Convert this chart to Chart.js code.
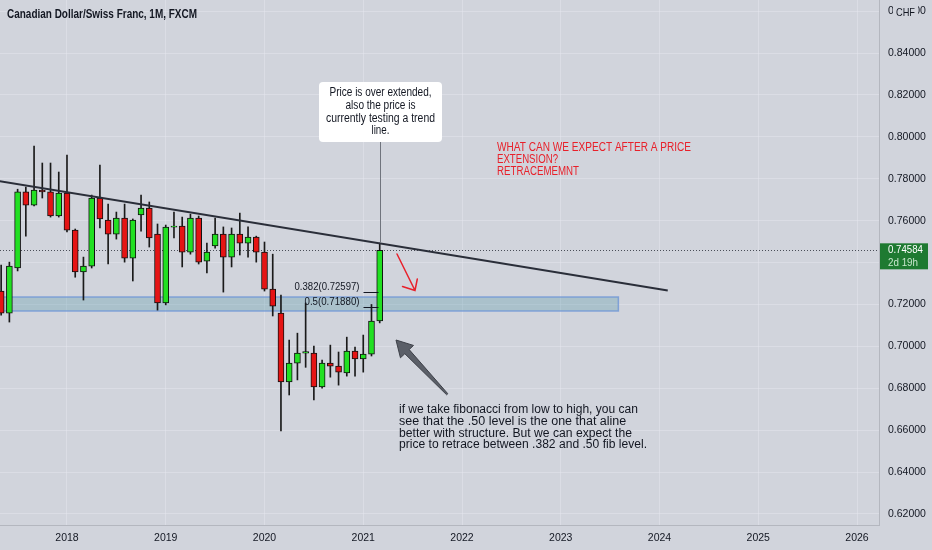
<!DOCTYPE html>
<html lang="en">
<head>
  <meta charset="UTF-8">
  <title>Canadian Dollar/Swiss Franc, 1M, FXCM</title>
  <script src="https://cdn.jsdelivr.net/npm/chart.js"></script>
  <style>
    html, body { margin: 0; padding: 0; background: #d1d4dc; overflow: hidden; }
    canvas { display: block; }
  </style>
</head>
<body>
  <canvas id="chart" width="932" height="550"></canvas>
  <script>
    // monthly candles, CADCHF
    const months = [
      "2017-05", "2017-06", "2017-07", "2017-08", "2017-09", "2017-10", "2017-11", "2017-12",
      "2018-01", "2018-02", "2018-03", "2018-04", "2018-05", "2018-06", "2018-07", "2018-08", "2018-09", "2018-10", "2018-11", "2018-12",
      "2019-01", "2019-02", "2019-03", "2019-04", "2019-05", "2019-06", "2019-07", "2019-08", "2019-09", "2019-10", "2019-11", "2019-12",
      "2020-01", "2020-02", "2020-03", "2020-04", "2020-05", "2020-06", "2020-07", "2020-08", "2020-09", "2020-10", "2020-11", "2020-12",
      "2021-01", "2021-02", "2021-03"
    ];
    const opens = [
      0.7264, 0.7159, 0.7374, 0.7737, 0.7674, 0.7746, 0.7737, 0.7622,
      0.7732, 0.7555, 0.7355, 0.7383, 0.7708, 0.7603, 0.7536, 0.7612, 0.7421, 0.7627, 0.7660, 0.7536,
      0.7207, 0.7569, 0.7574, 0.7450, 0.7612, 0.7407, 0.7479, 0.7536, 0.7426, 0.7536, 0.7493, 0.7522,
      0.7450, 0.7273, 0.7159, 0.6830, 0.6920, 0.6968, 0.6968, 0.6806, 0.6920, 0.6906, 0.6873, 0.6978,
      0.6940, 0.6963, 0.7121
    ];
    const highs = [
      0.7388, 0.7402, 0.7750, 0.7760, 0.7956, 0.7875, 0.7875, 0.7832,
      0.7913, 0.7560, 0.7426, 0.7722, 0.7865, 0.7679, 0.7641, 0.7679, 0.7608, 0.7722, 0.7689, 0.7584,
      0.7579, 0.7641, 0.7617, 0.7631, 0.7622, 0.7493, 0.7612, 0.7570, 0.7565, 0.7636, 0.7570, 0.7526,
      0.7498, 0.7440, 0.7245, 0.7030, 0.7063, 0.7207, 0.7001, 0.6935, 0.7006, 0.6973, 0.7044, 0.6997,
      0.7054, 0.7200, 0.7493
    ];
    const lows = [
      0.7149, 0.7116, 0.7360, 0.7526, 0.7670, 0.7708, 0.7617, 0.7617,
      0.7546, 0.7330, 0.7221, 0.7374, 0.7565, 0.7393, 0.7512, 0.7402, 0.7312, 0.7550, 0.7474, 0.7173,
      0.7198, 0.7517, 0.7379, 0.7440, 0.7393, 0.7350, 0.7469, 0.7259, 0.7379, 0.7436, 0.7426, 0.7402,
      0.7264, 0.7145, 0.6596, 0.6768, 0.6840, 0.6900, 0.6744, 0.6801, 0.6853, 0.6815, 0.6858, 0.6858,
      0.6877, 0.6954, 0.7112
    ];
    const closes = [
      0.7159, 0.7383, 0.7737, 0.7674, 0.7746, 0.7737, 0.7622, 0.7732,
      0.7555, 0.7355, 0.7383, 0.7708, 0.7608, 0.7536, 0.7612, 0.7421, 0.7603, 0.7660, 0.7517, 0.7207,
      0.7569, 0.7574, 0.7450, 0.7612, 0.7402, 0.7450, 0.7536, 0.7426, 0.7536, 0.7493, 0.7522, 0.7450,
      0.7273, 0.7192, 0.6830, 0.6920, 0.6968, 0.6975, 0.6806, 0.6920, 0.6906, 0.6877, 0.6978, 0.6940,
      0.6963, 0.7121, 0.74584
    ];

    const yearTicks = ["2018", "2019", "2020", "2021", "2022", "2023", "2024", "2025", "2026"];
    const lastPrice = 0.74584;
    const countdown = "2d 19h";

    // drawings on the chart
    const trendStart = ["2017-04", 0.77938];   // [month, price]
    const trendEnd = ["2024-02", 0.72663];
    const zoneTop = 0.72355;
    const zoneBottom = 0.7169;
    const zoneEnd = "2023-08";
    const fibLevels = [["0.382", 0.72597], ["0.5", 0.71880]];

    const bgColor = "#d1d4dc";
    const textColor = "#131722";
    const upColor = "#22e022";
    const downColor = "#e51414";

    // month string -> months since Jan 2017
    const toIdx = m => {
      const [y, mo] = m.split("-").map(Number);
      return (y - 2017) * 12 + (mo - 1);
    };

    const bodies = months.map((m, i) => {
      let o = opens[i], c = closes[i];
      if (Math.abs(o - c) < 0.0003) c = o > c ? o - 0.0003 : o + 0.0003;
      return { x: toIdx(m), y: [o, c] };
    });
    const wicks = months.map((m, i) => ({ x: toIdx(m), y: [lows[i], highs[i]] }));
    const bodyColors = months.map((m, i) => closes[i] >= opens[i] ? upColor : downColor);

    const text = (ctx, s, x, y, font, color, align, maxW) => {
      ctx.font = font;
      ctx.fillStyle = color;
      ctx.textAlign = align || "left";
      ctx.textBaseline = "middle";
      if (maxW) ctx.fillText(s, x, y, maxW); else ctx.fillText(s, x, y);
    };

    const overlay = {
      id: "overlay",
      beforeDraw(chart) {
        const ctx = chart.ctx;
        ctx.save();
        ctx.fillStyle = bgColor;
        ctx.fillRect(0, 0, chart.width, chart.height);
        ctx.restore();
      },
      beforeDatasetsDraw(chart) {
        const { ctx, chartArea: a, scales: { x, y } } = chart;
        ctx.save();
        // support zone
        const zx = x.getPixelForValue(toIdx(zoneEnd));
        const zt = Math.round(y.getPixelForValue(zoneTop)), zb = Math.round(y.getPixelForValue(zoneBottom));
        ctx.fillStyle = "rgba(80,150,165,0.3)";
        ctx.fillRect(a.left, zt, zx - a.left, zb - zt);
        ctx.strokeStyle = "rgba(110,150,215,0.8)";
        ctx.lineWidth = 1.5;
        ctx.strokeRect(a.left - 2, zt, zx - a.left + 2, zb - zt);
        // last price line
        const py = Math.round(y.getPixelForValue(lastPrice)) + 0.5;
        ctx.lineWidth = 1;
        ctx.setLineDash([1, 2]);
        ctx.strokeStyle = "#4a4e58";
        ctx.beginPath();
        ctx.moveTo(a.left, py);
        ctx.lineTo(a.right, py);
        ctx.stroke();
        ctx.restore();
      },
      afterDatasetsDraw(chart) {
        const { ctx, scales: { x, y } } = chart;
        const last = months.length - 1;
        const lastX = Math.round(x.getPixelForValue(toIdx(months[last]))) + 0.5;
        ctx.save();

        // fib levels
        ctx.strokeStyle = "#131722";
        ctx.lineWidth = 1;
        fibLevels.forEach(([lvl, v], i) => {
          const fy = Math.round(y.getPixelForValue(v)) + 0.5;
          ctx.beginPath();
          ctx.moveTo(lastX - 17, fy);
          ctx.lineTo(lastX - 2, fy);
          ctx.stroke();
          text(ctx, lvl + "(" + v.toFixed(5) + ")", lastX - 21, fy - 5.5,
            "11.5px 'Liberation Sans'", textColor, "right", i === 0 ? 65 : 55);
        });

        // callout pointing at the last candle
        ctx.strokeStyle = "#70747d";
        ctx.beginPath();
        ctx.moveTo(lastX, 142);
        ctx.lineTo(lastX, y.getPixelForValue(highs[last]));
        ctx.stroke();
        ctx.fillStyle = "#ffffff";
        ctx.beginPath();
        ctx.roundRect(319, 82, 123, 60, 4);
        ctx.fill();
        const callout = [
          ["Price is over extended,", 102],
          ["also the price is", 70],
          ["currently testing a trend", 109],
          ["line.", 18]
        ];
        callout.forEach(([s, w], i) => {
          text(ctx, s, 380.5, 93 + i * 12.7, "12px 'Liberation Sans'", textColor, "center", w);
        });

        // red note
        const red = "#e8202a";
        const redLines = [["WHAT CAN WE EXPECT AFTER A PRICE", 194], ["EXTENSION?", 61], ["RETRACEMEMNT", 82]];
        redLines.forEach(([s, w], i) => {
          text(ctx, s, 497, 148 + i * 12, "12.5px 'Liberation Sans'", red, "left", w);
        });

        // red arrow
        ctx.strokeStyle = red;
        ctx.lineWidth = 1.5;
        ctx.lineCap = "round";
        ctx.beginPath();
        ctx.moveTo(397, 254);
        ctx.lineTo(415, 290.5);
        ctx.moveTo(402.5, 286.5);
        ctx.lineTo(415, 290.5);
        ctx.lineTo(417.3, 279);
        ctx.stroke();

        // grey arrow
        const tail = [447, 394], tip = [396, 340];
        const dx = tip[0] - tail[0], dy = tip[1] - tail[1];
        const len = Math.hypot(dx, dy);
        const ux = dx / len, uy = dy / len, nx = -uy, ny = ux;
        const hl = 16, hw = 9, sw = 3, tw = 0.8;
        const bx = tip[0] - ux * hl, by = tip[1] - uy * hl;
        ctx.fillStyle = "#5b5f68";
        ctx.strokeStyle = "#3d4048";
        ctx.lineWidth = 1;
        ctx.beginPath();
        ctx.moveTo(tail[0] + nx * tw, tail[1] + ny * tw);
        ctx.lineTo(bx + nx * sw, by + ny * sw);
        ctx.lineTo(bx + nx * hw, by + ny * hw);
        ctx.lineTo(tip[0], tip[1]);
        ctx.lineTo(bx - nx * hw, by - ny * hw);
        ctx.lineTo(bx - nx * sw, by - ny * sw);
        ctx.lineTo(tail[0] - nx * tw, tail[1] - ny * tw);
        ctx.closePath();
        ctx.fill();
        ctx.stroke();

        // paragraph
        const para = [
          ["if we take fibonacci from low to high, you can", 239],
          ["see that the .50 level is the one that aline", 228],
          ["better with structure. But we can expect the", 233],
          ["price to retrace between .382 and .50 fib level.", 248]
        ];
        para.forEach(([s, w], i) => {
          text(ctx, s, 399, 410 + i * 11.6, "12.5px 'Liberation Sans'", textColor, "left", w);
        });
        ctx.restore();
      },
      afterDraw(chart) {
        const { ctx, chartArea: a, scales: { y } } = chart;
        ctx.save();
        // last price label
        const py = y.getPixelForValue(lastPrice);
        ctx.fillStyle = "#1e7a31";
        ctx.fillRect(a.right + 1, py - 7, 48, 26);
        text(ctx, lastPrice.toFixed(5), 888, py, "11px 'Liberation Sans'", "#ffffff", "left", 35);
        text(ctx, countdown, 888, py + 12.5, "11px 'Liberation Sans'", "#c9e6cd", "left", 30);
        // currency label
        ctx.fillStyle = bgColor;
        ctx.fillRect(893, 2, 25, 18);
        text(ctx, "CHF", 896, 13, "11px 'Liberation Sans'", textColor, "left", 19);
        // title
        text(ctx, "Canadian Dollar/Swiss Franc, 1M, FXCM", 7, 15, "bold 12px 'Liberation Sans'", textColor, "left", 190);
        ctx.restore();
      }
    };

    new Chart(document.getElementById("chart"), {
      type: "bar",
      data: {
        datasets: [{
          type: "line",
          data: [
            { x: toIdx(trendStart[0]), y: trendStart[1] },
            { x: toIdx(trendEnd[0]), y: trendEnd[1] }
          ],
          borderColor: "#2a2e39",
          borderWidth: 2,
          pointRadius: 0,
          order: 1
        }, {
          data: bodies,
          backgroundColor: bodyColors,
          borderColor: "#111111",
          borderWidth: 1,
          borderSkipped: false,
          barThickness: 6,
          grouped: false,
          order: 2
        }, {
          data: wicks,
          backgroundColor: "#1a1a1a",
          borderWidth: 0,
          barThickness: 1,
          grouped: false,
          order: 3
        }]
      },
      options: {
        responsive: false,
        animation: false,
        layout: { padding: 0 },
        plugins: {
          legend: { display: false },
          tooltip: { enabled: false }
        },
        scales: {
          x: {
            type: "linear",
            min: 3.86,
            max: 110.67,
            offset: false,
            grid: { offset: false, color: "rgba(230,233,240,0.45)", drawTicks: false },
            border: { color: "#b4b7bf" },
            ticks: {
              stepSize: 12,
              includeBounds: false,
              autoSkip: false,
              maxRotation: 0,
              padding: 7,
              color: textColor,
              font: { family: "'Liberation Sans'", size: 10.5 },
              callback: v => yearTicks[v / 12 - 1] || ""
            },
            afterFit: s => {
              s.height = 25;
              s.paddingLeft = 0;
              s.paddingRight = 0;
            }
          },
          y: {
            position: "right",
            min: 0.61475,
            max: 0.8653,
            grid: { color: "rgba(230,233,240,0.45)", drawTicks: false },
            border: { color: "#b4b7bf" },
            ticks: {
              stepSize: 0.02,
              includeBounds: false,
              padding: 9,
              color: textColor,
              font: { family: "'Liberation Sans'", size: 10.5 },
              callback: v => v.toFixed(5)
            },
            afterFit: s => {
              s.width = 53;
              s.paddingTop = 0;
              s.paddingBottom = 0;
            }
          }
        }
      },
      plugins: [overlay]
    });
  </script>
</body>
</html>
